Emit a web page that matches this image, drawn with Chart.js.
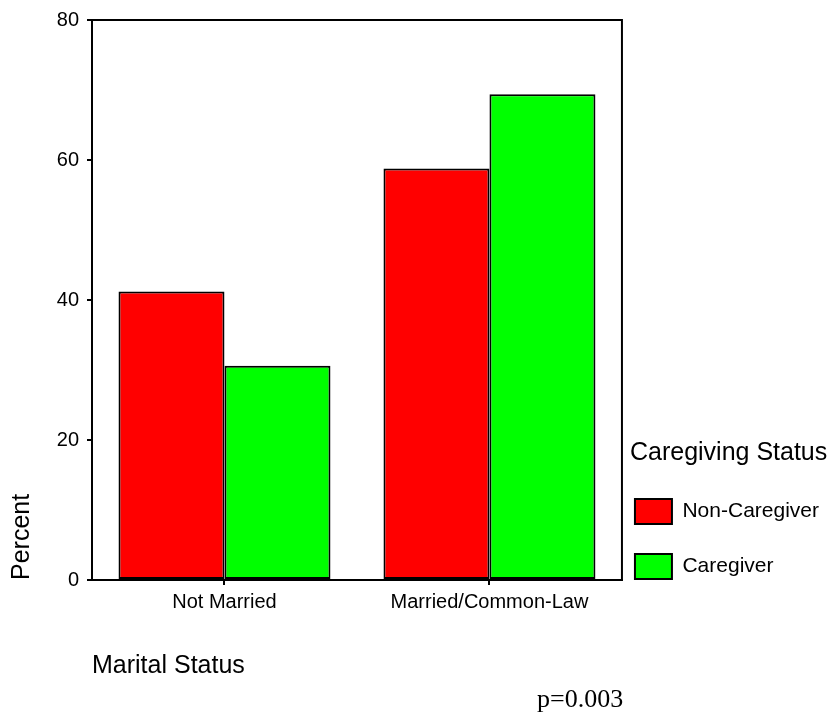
<!DOCTYPE html>
<html>
<head>
<meta charset="utf-8">
<script src="https://cdn.jsdelivr.net/npm/chart.js@4"></script>
<style>
  body { margin: 0; background: #fff; }
  #wrap { position: relative; width: 837px; height: 719px; }
  #pval {
    position: absolute; left: 537px; top: 684px;
    font-family: "Liberation Serif", "Times New Roman", serif; font-size: 26px; color: #000;
  }
</style>
</head>
<body>
<div id="wrap">
  <canvas id="careChart"></canvas>
  <div id="pval">p=0.003</div>
</div>
<script>
// Values (percent within each caregiving group)
const categories = ['Not Married', 'Married/Common-Law'];
const nonCaregiver = [41.2, 58.8];
const caregiver = [30.6, 69.4];
const yMax = 80;
const yStep = 20;

const FONT = '"Liberation Sans", Arial, sans-serif';

// box round the plot area (top and right edges as in the original)
const frame = {
    id: 'frame',
    afterDatasetsDraw(chart) {
        const { ctx, chartArea: a } = chart;
        ctx.save();
        ctx.strokeStyle = '#000';
        ctx.lineWidth = 2;
        ctx.strokeRect(a.left, a.top, a.right - a.left, a.bottom - a.top);
        ctx.restore();
    }
};

const ctx = document.getElementById('careChart').getContext('2d');

let chart = new Chart(ctx, {
    type: 'bar',
    data: {
        labels: categories,
        datasets: [{
            label: 'Non-Caregiver',
            data: nonCaregiver,
            backgroundColor: '#ff0000',
            borderColor: '#000',
            borderWidth: 2,
            borderSkipped: false
        }, {
            label: 'Caregiver',
            data: caregiver,
            backgroundColor: '#00ff00',
            borderColor: '#000',
            borderWidth: 2,
            borderSkipped: false
        }]
    },
    options: {
        responsive: true,
        maintainAspectRatio: false,
        animation: false,
        layout: { padding: { top: 18, right: 8, bottom: 0, left: 0 } },
        datasets: { bar: { categoryPercentage: 0.8, barPercentage: 1.0 } },
        plugins: {
            tooltip: { enabled: false },
            legend: {
                position: 'right',
                align: 'start',
                labels: {
                    color: '#000',
                    font: { family: FONT, size: 21, lineHeight: '50px' },
                    boxWidth: 37,
                    boxHeight: 25,
                    padding: 5,
                    // text as array so the row step follows the font line height
                    generateLabels(chart) {
                        return Chart.defaults.plugins.legend.labels.generateLabels(chart)
                            .map(item => ({ ...item, text: [item.text] }));
                    }
                },
                title: {
                    display: true,
                    text: 'Caregiving Status',
                    position: 'start',
                    color: '#000',
                    font: { family: FONT, size: 25 },
                    padding: { top: 422.5, bottom: 23.5 }
                }
            }
        },
        scales: {
            x: {
                grid: {
                    offset: false,
                    drawOnChartArea: false,
                    tickLength: 5,
                    color: '#000',
                    lineWidth: 2
                },
                border: { display: true, color: '#000', width: 2 },
                ticks: {
                    color: '#000',
                    font: { family: FONT, size: 20 },
                    padding: 5,
                    maxRotation: 0
                },
                title: {
                    display: true,
                    text: 'Marital Status',
                    align: 'start',
                    color: '#000',
                    font: { family: FONT, size: 25 },
                    padding: { top: 0, bottom: 38 }
                },
                afterFit(scale) { scale.height = 139; }
            },
            y: {
                min: 0,
                max: yMax,
                grid: {
                    drawOnChartArea: false,
                    tickLength: 5,
                    color: '#000',
                    lineWidth: 2
                },
                border: { display: true, color: '#000', width: 2 },
                ticks: {
                    stepSize: yStep,
                    color: '#000',
                    font: { family: FONT, size: 20 },
                    padding: 8
                },
                title: {
                    display: true,
                    text: 'Percent',
                    align: 'start',
                    color: '#000',
                    font: { family: FONT, size: 25 },
                    padding: { top: 7, bottom: 0 }
                },
                afterFit(scale) { scale.width = 92; }
            },
            // hidden spacer between the plot frame and the legend
            gap: {
                display: false,
                position: 'right',
                afterFit(scale) { scale.width = 8; }
            }
        }
    },
    plugins: [frame]
});
</script>
</body>
</html>
